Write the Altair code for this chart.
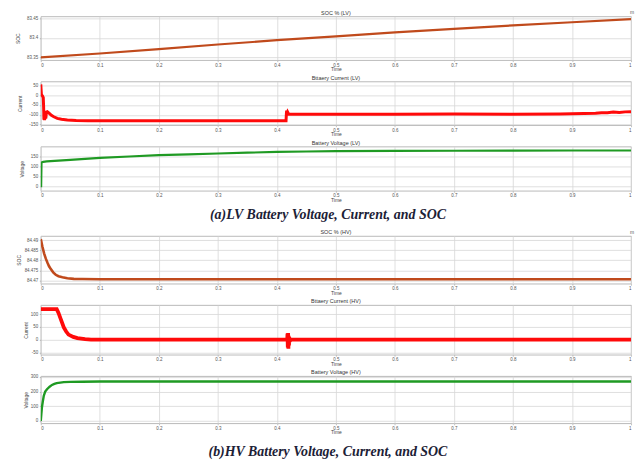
import altair as alt
import pandas as pd

# ---------------- data ----------------
x_ticks = [0, 0.1, 0.2, 0.3, 0.4, 0.5, 0.6, 0.7, 0.8, 0.9, 1]

# (a) LV battery
soc_lv_t = [0.0, 0.1, 0.2, 0.3, 0.4, 0.5, 0.6, 0.7, 0.8, 0.9, 1.0]
soc_lv = [83.350, 83.360, 83.371, 83.383, 83.394, 83.404, 83.414, 83.423, 83.432, 83.440, 83.448]

cur_lv_t = [0.0, 0.0005, 0.001, 0.0017, 0.003, 0.0042, 0.0048, 0.0053, 0.0058, 0.0063,
            0.0068, 0.0073, 0.0078, 0.0085, 0.0095, 0.011, 0.014, 0.018, 0.022, 0.028,
            0.035, 0.045, 0.06, 0.08, 0.1, 0.2, 0.3, 0.4, 0.4155, 0.416,
            0.4165, 0.417, 0.418, 0.42, 0.45, 0.5, 0.6, 0.7, 0.8, 0.88,
            0.9, 0.92, 0.94, 0.95, 0.96, 0.97, 0.98, 0.99, 1.0]
cur_lv = [55, 30, 5, 0, -5, -12, -60, -125, -80, -128,
          -85, -122, -82, -118, -86, -84, -92, -103, -110, -118,
          -123, -127, -129, -130, -130, -130, -130, -130, -130, -100,
          -78, -92, -85, -97, -97, -97, -97, -96, -97, -96,
          -95, -93, -92, -89, -90, -86, -88, -85, -84]

vol_lv_t = [0.0, 0.0006, 0.0012, 0.004, 0.01, 0.03, 0.05, 0.1, 0.15, 0.2, 0.25,
            0.3, 0.35, 0.4, 0.45, 0.5, 0.6, 0.7, 0.8, 0.9, 1.0]
vol_lv = [0, 0, 120, 123, 125, 129, 133, 143, 150, 157, 161,
          165, 169, 173, 175, 177, 178, 179, 179.5, 180, 180]

# (b) HV battery
soc_hv_t = [0.0, 0.0028, 0.0056, 0.0085, 0.0117, 0.014, 0.017, 0.021, 0.0253, 0.03,
            0.0366, 0.045, 0.056, 0.07, 0.1, 0.2, 0.3, 0.4, 0.5, 0.6, 0.7, 0.8, 0.9, 1.0]
soc_hv = [84.4905, 84.4867, 84.4834, 84.4808, 84.4785, 84.4770, 84.4756, 84.4740, 84.4728, 84.4721,
          84.4716, 84.4711, 84.4708, 84.4707, 84.4706, 84.4706, 84.4706, 84.4706, 84.4706, 84.4706,
          84.4706, 84.4706, 84.4706, 84.4706]

cur_hv_t = [0.0, 0.027, 0.030, 0.034, 0.039, 0.043, 0.047, 0.055, 0.062, 0.075,
            0.085, 0.1, 0.2, 0.3, 0.4, 0.4175, 0.418, 0.4185, 0.419, 0.4195,
            0.42, 0.4205, 0.421, 0.422, 0.424, 0.5, 0.6, 0.7, 0.8, 0.9, 1.0]
cur_hv = [120, 120, 105, 80, 48, 32, 20, 11, 6, 2,
          0.5, 0.5, 0.5, 0.5, 0.5, 0.5, 24, -30, 26, -35,
          15, -22, 8, -5, 0.5, 0.5, 0.5, 0.5, 0.5, 0.5, 0.5]

vol_hv_t = [0.0, 0.001, 0.002, 0.0034, 0.005, 0.0075, 0.0105, 0.015, 0.019, 0.023,
            0.027, 0.033, 0.039, 0.05, 0.07, 0.1, 0.2, 0.3, 0.4, 0.5, 0.6, 0.7, 0.8, 0.9, 1.0]
vol_hv = [0, 50, 95, 131, 170, 200, 216, 233, 245, 252,
          257, 261, 264, 266, 267, 268, 268, 268, 268, 268, 268, 268, 268, 268, 268]

panel_titles = ["SOC % (LV)", "Bttaery Current (LV)", "Battery Voltage (LV)",
                "SOC % (HV)", "Bttaery Current (HV)", "Battery Voltage (HV)"]
caption_a = "(a)LV Battery Voltage, Current, and SOC"
caption_b = "(b)HV Battery Voltage, Current, and SOC"

# ---------------- styling ----------------
W = 594
SOC_COLOR = "#c04a1c"
CUR_COLOR = "#ff0a0a"
VOL_COLOR = "#1f9a23"
FONT = "Liberation Sans"
LABEL_EXPR = "'' + datum.value"


def panel(t, v, color, sw, title, ytitle, ydomain, yticks, height, title_x, corner=False):
    df = pd.DataFrame({"t": t, "v": v})
    line = alt.Chart(df).mark_line(color=color, strokeWidth=sw, clip=True).encode(
        x=alt.X("t:Q",
                scale=alt.Scale(domain=[0, 1], nice=False, zero=False),
                axis=alt.Axis(values=x_ticks, labelExpr=LABEL_EXPR, title="Time",
                              labelPadding=0.5, titlePadding=0, tickSize=1.5)),
        y=alt.Y("v:Q",
                scale=alt.Scale(domain=ydomain, nice=False, zero=False),
                axis=alt.Axis(values=yticks, labelExpr=LABEL_EXPR, title=ytitle,
                              titleX=title_x, titleBaseline="middle",
                              labelPadding=1.5, tickSize=1.5)),
    )
    title_df = pd.DataFrame({"ttl": [title]})
    ttl = alt.Chart(title_df).mark_text(
        font=FONT, fontSize=5.5, color="#333", baseline="middle", align="center"
    ).encode(text="ttl:N", x=alt.value(W / 2), y=alt.value(-3.7))
    layers = [line, ttl]
    if corner:
        mark_df = pd.DataFrame({"m": ["m"]})
        layers.append(
            alt.Chart(mark_df).mark_text(font=FONT, fontSize=5, color="#555", align="left",
                                         baseline="middle").encode(
                text="m:N", x=alt.value(W - 1), y=alt.value(-4))
        )
    return alt.layer(*layers).properties(width=W, height=height)


def caption(text, ypos):
    df = pd.DataFrame({"c": [text]})
    return alt.Chart(df).mark_text(
        font="Liberation Serif", fontSize=14, fontStyle="italic", fontWeight="bold",
        color="#1c2136", baseline="middle").encode(
        text="c:N", x=alt.value(289), y=alt.value(ypos)
    ).properties(width=W, height=2, view=alt.ViewBackground(strokeOpacity=0))


p1 = panel(soc_lv_t, soc_lv, SOC_COLOR, 2.2, panel_titles[0], "SOC",
           [83.343, 83.455], [83.35, 83.4, 83.45], 44, -23.5, corner=True)
p2 = panel(cur_lv_t, cur_lv, CUR_COLOR, 3, panel_titles[1], "Current",
           [-153, 70], [-150, -100, -50, 0, 50], 44, -21.5)
p3 = panel(vol_lv_t, vol_lv, VOL_COLOR, 2.2, panel_titles[2], "Voltage",
           [-23, 200], [0, 50, 100, 150], 44.5, -19)
cap_a = caption(caption_a, 2)
p4 = panel(soc_hv_t, soc_hv, SOC_COLOR, 2.6, panel_titles[3], "SOC",
           [84.4684, 84.492], [84.47, 84.475, 84.48, 84.485, 84.49], 48, -22, corner=True)
p5 = panel(cur_hv_t, cur_hv, CUR_COLOR, 3.8, panel_titles[4], "Current",
           [-59, 136], [-50, 0, 50, 100], 50, -15)
p6 = panel(vol_hv_t, vol_hv, VOL_COLOR, 2.4, panel_titles[5], "Voltage",
           [-16, 305], [0, 100, 200, 300], 47.5, -15)
cap_b = caption(caption_b, 7)

chart = alt.vconcat(p1, p2, p3, cap_a, p4, p5, p6, cap_b, spacing=21.5, bounds="flush").properties(
    padding={"left": 7, "top": 0, "right": 0, "bottom": 0}
).configure_axis(
    labelFont=FONT, labelFontSize=4.5, labelColor="#555",
    titleFont=FONT, titleFontSize=5, titleFontWeight="normal", titleColor="#444",
    gridColor="#d6d6d6", gridWidth=0.8, domain=False, tickColor="#999", tickWidth=0.6,
).configure_view(stroke="#a8a8a8", strokeWidth=0.8)

chart.save("out.html", embed_options={"renderer": "svg", "actions": False})
